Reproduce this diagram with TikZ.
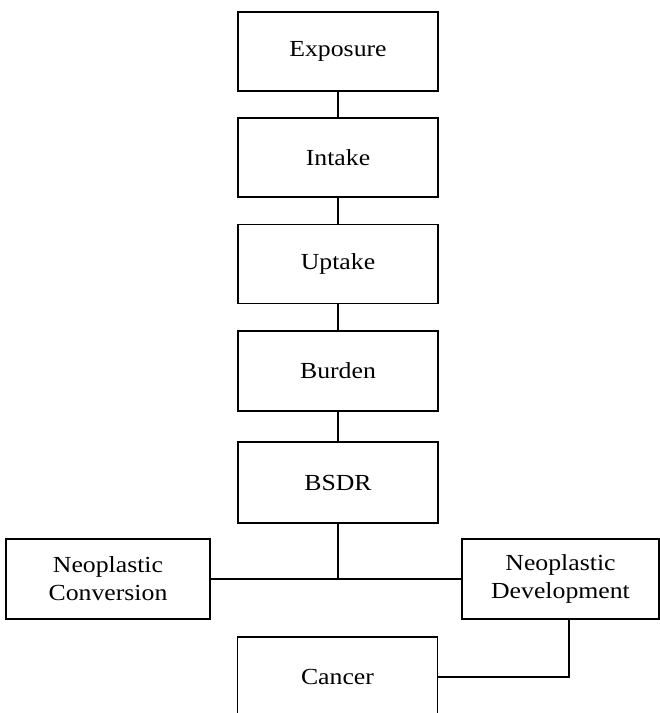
\documentclass[tikz,border=0pt]{standalone}
\usepackage{fontspec}
\setmainfont{Liberation Serif}[FakeStretch=1.12]
\begin{document}
\begin{tikzpicture}[x=1pt,y=-1pt,
  box/.style={draw,line width=1.8pt,inner sep=0pt,align=center,font=\fontsize{23}{28}\selectfont},
  link/.style={line width=1.8pt}]
\useasboundingbox (0,0) rectangle (660,713);
\node[box,minimum width=200,minimum height=79] (exposure) at (338,51.5) {Exposure};
\node[box,minimum width=200,minimum height=79] (intake) at (338,157.5) {Intake};
\node[box,minimum width=200,minimum height=79] (uptake) at (338,264) {Uptake};
\node[box,minimum width=200,minimum height=80] (burden) at (338,371) {Burden};
\node[box,minimum width=200,minimum height=81] (bsdr) at (338,482.5) {BSDR};
\node[box,minimum width=204,minimum height=80] (nc) at (108,579) {Neoplastic\\Conversion};
\node[box,minimum width=197,minimum height=80] (nd) at (560.5,579) {Neoplastic\\Development};
\node[box,minimum width=200,minimum height=80] (cancer) at (337.5,677) {Cancer};
\draw[link] (exposure) -- (intake);
\draw[link] (intake) -- (uptake);
\draw[link] (uptake) -- (burden);
\draw[link] (burden) -- (bsdr);
\draw[link] (nc) -- (nd);
\draw[link] (bsdr.south) -- (bsdr.south |- nc.east);
\draw[link] ([xshift=8.5pt]nd.south) |- (cancer.east);
\end{tikzpicture}
\end{document}
